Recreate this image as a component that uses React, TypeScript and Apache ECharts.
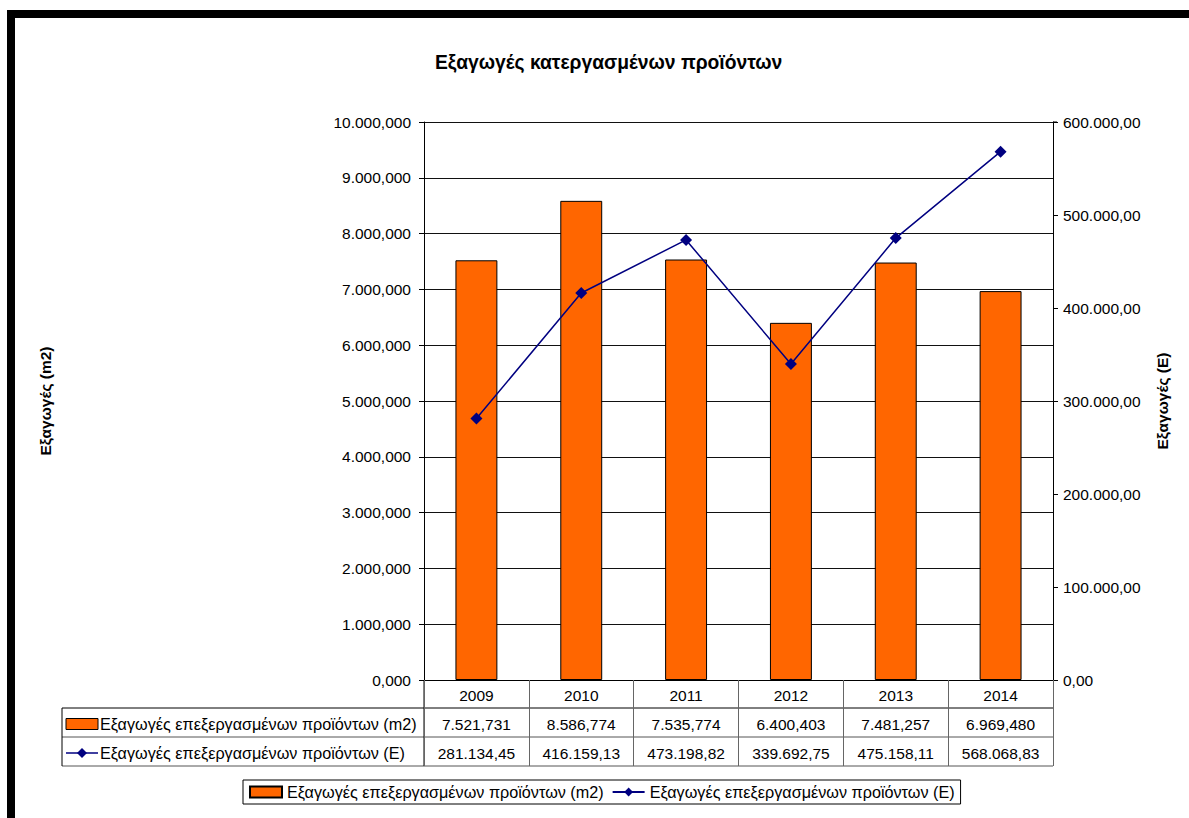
import React, { useEffect, useRef } from "react";
import * as echarts from "echarts";

const categories = ["2009", "2010", "2011", "2012", "2013", "2014"];
const exportsM2 = [7521.731, 8586.774, 7535.774, 6400.403, 7481.257, 6969.48];
const exportsE = [281134.45, 416159.13, 473198.82, 339692.75, 475158.11, 568068.83];
const nameM2 = "Εξαγωγές επεξεργασμένων προϊόντων (m2)";
const nameE = "Εξαγωγές επεξεργασμένων προϊόντων (E)";
const titleText = "Εξαγωγές κατεργασμένων προϊόντων";
const leftAxisName = "Εξαγωγές (m2)";
const rightAxisName = "Εξαγωγές (E)";

const FONT = "'Liberation Sans', Arial, sans-serif";
const FS = 15.5;
const FSG = 16.2;
const W = 1189;
const H = 818;
const GL = 424;
const GR = 1053;
const GT = 122;
const GB = 680;
const ROW = [680, 708, 737, 766];
const TABLE_LEFT = 62;

function fmt(v: number, dec: number): string {
  const s = v.toFixed(dec);
  const [i, f] = s.split(".");
  const g = i.replace(/\B(?=(\d{3})+(?!\d))/g, ".");
  return f ? g + "," + f : g;
}

export default function App() {
  const ref = useRef<HTMLDivElement>(null);
  useEffect(() => {
    if (!ref.current) return;
    const chart = echarts.init(ref.current, null, { renderer: "svg" });
    const nameStyle = { fontFamily: FONT, fontSize: 15.5, fontWeight: "bold", color: "#000" };
    chart.setOption({
      animation: false,
      backgroundColor: "#fff",
      textStyle: { fontFamily: FONT },
      title: {
        text: titleText,
        left: 430,
        top: 48,
        textStyle: { fontFamily: FONT, fontSize: 19.3, fontWeight: "bold", color: "#000" },
      },
      grid: { left: GL, right: W - GR, top: GT, bottom: H - GB, containLabel: false },
      legend: {
        left: 243,
        top: 780,
        orient: "horizontal",
        borderColor: "#000",
        borderWidth: 1,
        padding: [4, 6, 4, 6],
        itemGap: 8,
        itemWidth: 32,
        itemHeight: 11,
        textStyle: { fontFamily: FONT, fontSize: FSG, color: "#000" },
        data: [{ name: nameM2, icon: "rect" }, { name: nameE }],
      },
      xAxis: {
        type: "category",
        data: categories,
        axisLine: { lineStyle: { color: "#000", width: 1 } },
        axisTick: { show: true, length: ROW[3] - ROW[0], interval: 0, lineStyle: { color: "#666" } },
        axisLabel: { fontFamily: FONT, fontSize: FS, color: "#000", margin: 7 },
        splitLine: { show: false },
      },
      yAxis: [
        {
          type: "value",
          min: 0,
          max: 10000,
          interval: 1000,
          position: "left",
          name: leftAxisName,
          nameLocation: "middle",
          nameRotate: 90,
          nameGap: 371,
          nameTextStyle: nameStyle,
          axisLine: { show: true, lineStyle: { color: "#000" } },
          axisTick: { show: true, length: 5, lineStyle: { color: "#000" } },
          axisLabel: { fontFamily: FONT, fontSize: FS, color: "#000", margin: 13, formatter: (v: number) => fmt(v, 3) },
          splitLine: { show: true, lineStyle: { color: "#111", width: 1 } },
        },
        {
          type: "value",
          min: 0,
          max: 600000,
          interval: 100000,
          position: "right",
          name: rightAxisName,
          nameLocation: "middle",
          nameRotate: 90,
          nameGap: 101,
          nameTextStyle: nameStyle,
          axisLine: { show: true, lineStyle: { color: "#000" } },
          axisTick: { show: true, length: 5, lineStyle: { color: "#000" } },
          axisLabel: { fontFamily: FONT, fontSize: FS, color: "#000", margin: 10, formatter: (v: number) => fmt(v, 2) },
          splitLine: { show: false },
        },
      ],
      series: [
        {
          name: nameM2,
          type: "bar",
          yAxisIndex: 0,
          data: exportsM2,
          barWidth: "40%",
          itemStyle: { color: "#FF6600", borderColor: "#000", borderWidth: 1 },
        },
        {
          name: nameE,
          type: "line",
          yAxisIndex: 1,
          data: exportsE,
          symbol: "diamond",
          symbolSize: 12,
          lineStyle: { color: "#000080", width: 1.5 },
          itemStyle: { color: "#000080" },
        },
      ],
    });

    const xs = categories.map((_, i) => chart.convertToPixel({ xAxisIndex: 0 }, i) as number);
    const rowMid2 = (ROW[1] + ROW[2]) / 2 + 1.5;
    const rowMid3 = (ROW[2] + ROW[3]) / 2 + 1.5;
    const lineStyle = { stroke: "#000", lineWidth: 1 };
    const graphic: any[] = [
      { type: "rect", shape: { x: 7, y: 10, width: W - 7, height: 8 }, style: { fill: "#000" } },
      { type: "rect", shape: { x: 7, y: 10, width: 8, height: H - 10 }, style: { fill: "#000" } },
      { type: "line", shape: { x1: TABLE_LEFT, y1: ROW[1], x2: GR, y2: ROW[1] }, style: lineStyle },
      { type: "line", shape: { x1: TABLE_LEFT, y1: ROW[2], x2: GR, y2: ROW[2] }, style: { stroke: "#555", lineWidth: 1 } },
      { type: "line", shape: { x1: TABLE_LEFT, y1: ROW[3], x2: GR, y2: ROW[3] }, style: { stroke: "#555", lineWidth: 1 } },
      { type: "line", shape: { x1: TABLE_LEFT, y1: ROW[1], x2: TABLE_LEFT, y2: ROW[3] }, style: lineStyle },
      { type: "line", shape: { x1: GL, y1: ROW[0], x2: GL, y2: ROW[3] }, style: lineStyle },
      { type: "line", shape: { x1: GR, y1: GT, x2: GR + 4, y2: GT }, style: lineStyle },
      { type: "rect", shape: { x: 66, y: rowMid2 - 5.5, width: 32, height: 11 }, style: { fill: "#FF6600", stroke: "#000", lineWidth: 1 } },
      { type: "line", shape: { x1: 66, y1: rowMid3, x2: 98, y2: rowMid3 }, style: { stroke: "#000080", lineWidth: 1.5 } },
      { type: "polygon", shape: { points: [[82, rowMid3 - 5], [87, rowMid3], [82, rowMid3 + 5], [77, rowMid3]] }, style: { fill: "#000080" } },
      { type: "text", x: 100, y: rowMid2, style: { text: nameM2, font: `${FSG}px ${FONT}`, fill: "#000", verticalAlign: "middle" } },
      { type: "text", x: 100, y: rowMid3, style: { text: nameE, font: `${FSG}px ${FONT}`, fill: "#000", verticalAlign: "middle" } },
    ];
    xs.forEach((x, i) => {
      graphic.push({ type: "text", x, y: rowMid2, style: { text: fmt(exportsM2[i], 3), font: `${FS}px ${FONT}`, fill: "#000", align: "center", verticalAlign: "middle" } });
      graphic.push({ type: "text", x, y: rowMid3, style: { text: fmt(exportsE[i], 2), font: `${FS}px ${FONT}`, fill: "#000", align: "center", verticalAlign: "middle" } });
    });
    chart.setOption({ graphic });
    return () => chart.dispose();
  }, []);
  return <div ref={ref} style={{ position: "absolute", left: 0, top: 0, width: W, height: H }} />;
}
